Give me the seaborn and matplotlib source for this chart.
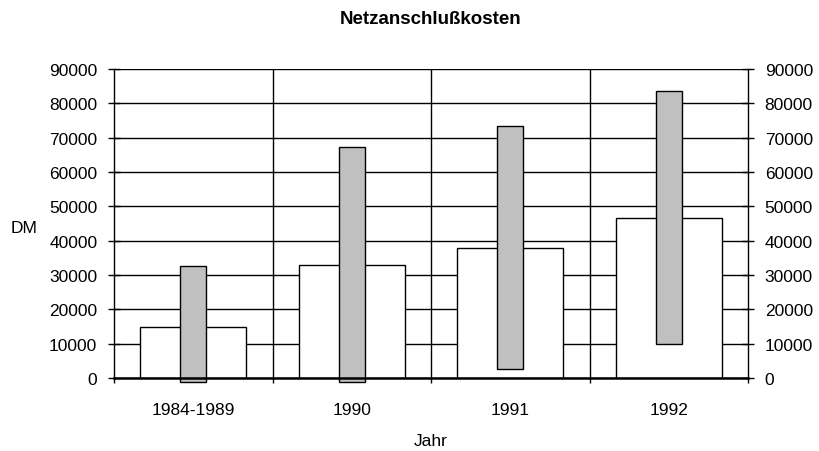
import matplotlib
matplotlib.use("Agg")
import matplotlib.pyplot as plt
import seaborn as sns
import pandas as pd
import numpy as np

# ---- data ----
categories = ["1984-1989", "1990", "1991", "1992"]
white_values = [15000, 32800, 38000, 46500]
gray_low = [-1200, -1200, 2600, 9800]
gray_high = [32700, 67200, 73500, 83600]
y_ticks = [0, 10000, 20000, 30000, 40000, 50000, 60000, 70000, 80000, 90000]

sns.set_theme(style="white")
plt.rcParams["font.family"] = ["Liberation Sans", "DejaVu Sans"]
plt.rcParams["text.color"] = "black"
FS = 12.5

fig = plt.figure(figsize=(8.19, 4.52), dpi=100)
ax = fig.add_axes([114 / 819, 1 - 379 / 452, (748 - 114) / 819, (379 - 70) / 452])

df_white = pd.DataFrame({"Jahr": categories, "Wert": white_values})
df_gray = pd.DataFrame({"Jahr": categories,
                        "Spanne": [h - l for h, l in zip(gray_high, gray_low)]})

sns.barplot(data=df_white, x="Jahr", y="Wert", order=categories, color="white",
            saturation=1, width=0.67, edgecolor="black", linewidth=1.0, ax=ax,
            zorder=2)
sns.barplot(data=df_gray, x="Jahr", y="Spanne", order=categories, color="#C0C0C0",
            saturation=1, width=0.165, edgecolor="black", linewidth=1.0, ax=ax,
            bottom=gray_low, zorder=3, clip_on=False)

ax.set_xlim(-0.5, 3.5)
ax.set_ylim(0, 90000)
ax.set_yticks(y_ticks)
ax.set_yticklabels([str(v) for v in y_ticks], fontsize=FS)

# grid
for v in y_ticks:
    ax.axhline(v, color="black", lw=1.0, zorder=1)
for b in [0.5, 1.5, 2.5]:
    ax.axvline(b, color="black", lw=1.0, zorder=1)

for s in ["left", "right"]:
    ax.spines[s].set_color("black")
    ax.spines[s].set_linewidth(1.0)
ax.spines["top"].set_visible(False)
ax.spines["bottom"].set_color("black")
ax.spines["bottom"].set_linewidth(1.8)
ax.spines["bottom"].set_zorder(5)

ax.tick_params(axis="y", which="major", direction="inout", length=8, width=1,
               color="black", left=True, right=True, labelleft=True,
               labelright=True, pad=8, labelsize=FS, labelcolor="black")
ax.set_xticks(range(len(categories)))
ax.set_xticklabels(categories, fontsize=FS)
ax.tick_params(axis="x", which="major", length=0, pad=17, labelsize=FS,
               labelcolor="black")
ax.set_xticks([-0.5, 0.5, 1.5, 2.5, 3.5], minor=True)
ax.tick_params(axis="x", which="minor", direction="out", length=3.5, width=1,
               color="black", bottom=True)

ax.set_xlabel("Jahr", fontsize=FS, labelpad=12, color="black")
ax.set_ylabel("")
fig.text(24 / 819, 1 - 229 / 452, "DM", fontsize=FS, ha="center", va="center",
         color="black")
fig.text(431 / 819, 1 - 20 / 452, "Netzanschlußkosten", fontsize=13.5,
         fontweight="bold", ha="center", va="center", color="black")

fig.savefig("out.png", dpi=100, facecolor="white")
